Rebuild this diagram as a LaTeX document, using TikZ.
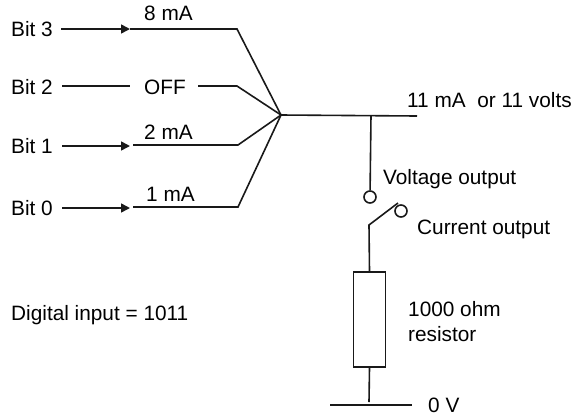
\documentclass[tikz,border=0pt]{standalone}
\usepackage{fontspec}
\setmainfont{Liberation Sans}
\usetikzlibrary{arrows.meta}
\begin{document}
\begin{tikzpicture}[x=1pt,y=-1pt,
  lbl/.style={inner sep=0pt,anchor=base west,font=\fontsize{20.8}{24}\selectfont},
  wire/.style={line width=1.6pt,black!90,line join=miter},
  feed/.style={wire,-{Triangle[length=9pt,width=9pt]}},
  contact/.style={circle,draw=black!90,line width=1.6pt,fill=white,minimum size=12pt,inner sep=0pt},
  resbox/.style={draw=black!90,line width=1.6pt,fill=white,minimum width=32pt,minimum height=95pt,inner sep=0pt}]
\useasboundingbox (0,0) rectangle (573,416);
\node[lbl] (b3) at (11,36) {Bit 3};
\node[lbl] (b2) at (11,94) {Bit 2};
\node[lbl] (b1) at (11,153) {Bit 1};
\node[lbl] (b0) at (11,215) {Bit 0};
\node[lbl] (t8) at (144,20) {8 mA};
\node[lbl] (off) at (144,94) {OFF};
\node[lbl] (t2) at (144,139) {2 mA};
\node[lbl] (t1) at (146,201) {1 mA};
\node[lbl] (out) at (407,107) {11 mA\ \ or 11 volts};
\node[lbl] (vo) at (383,184) {Voltage output};
\node[lbl] (co) at (417,234) {Current output};
\node[lbl] (ro) at (408,316) {1000 ohm};
\node[lbl] at (408,341) (rs) {resistor};
\node[lbl] (zv) at (428,412) {0 V};
\node[lbl] (di) at (11,320) {Digital input = 1011};
\coordinate (j) at (281,115);
\coordinate (oe) at (417,116);
\coordinate (tap) at (371,115.5);
\coordinate (a3) at (61,29); \coordinate (c3) at (130,29); \coordinate (k3) at (237,29);
\coordinate (a2) at (62,86); \coordinate (c2) at (130,86); \coordinate (d2) at (198,86); \coordinate (k2) at (237,86);
\coordinate (a1) at (62,146); \coordinate (c1) at (130,146); \coordinate (d1) at (133,145); \coordinate (k1) at (238,145);
\coordinate (a0) at (62,208); \coordinate (c0) at (130,208); \coordinate (d0) at (133,207); \coordinate (k0) at (238,207);
\coordinate (sw) at (369,225);
\coordinate (swt) at (398,203);
\coordinate (g1) at (330,405);
\coordinate (g2) at (412,405);
\coordinate (gt) at (369,402);
\node[contact] (cv) at (370,197) {};
\node[contact] (ci) at (401,211) {};
\node[resbox] (r) at (369.5,319.5) {};
\draw[feed] (a3) -- (c3);
\draw[wire] (c3) -- (k3) -- (j);
\draw[wire] (a2) -- (c2);
\draw[wire] (d2) -- (k2) -- (j);
\draw[feed] (a1) -- (c1);
\draw[wire] (d1) -- (k1) -- (j);
\draw[feed] (a0) -- (c0);
\draw[wire] (d0) -- (k0) -- (j);
\draw[wire] (j) -- (oe);
\draw[wire] (tap) -- (cv);
\draw[wire] (r.north) -- (sw) -- (swt);
\draw[wire] (r.south) -- (gt);
\draw[wire] (g1) -- (g2);
\end{tikzpicture}
\end{document}
